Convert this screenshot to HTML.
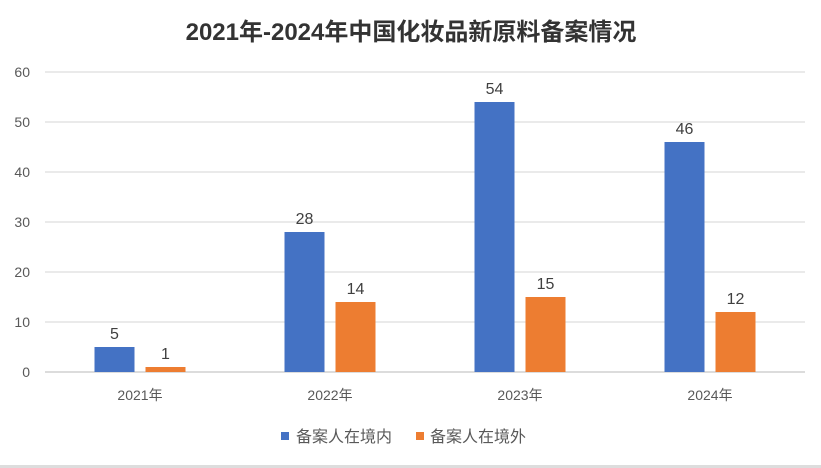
<!DOCTYPE html>
<html><head><meta charset="utf-8"><style>
html,body{margin:0;padding:0;background:#fff;}
svg{display:block;font-family:"Liberation Sans","Noto Sans CJK SC",sans-serif;}
</style></head><body>
<svg id="chart" width="821" height="468" viewBox="0 0 821 468">
<text x="411" y="40" text-anchor="middle" font-size="24" font-weight="bold" fill="#333">2021年-2024年中国化妆品新原料备案情况</text>
<g id="grid"></g><g id="bars"></g>
<g>
<rect x="281" y="432" width="8" height="8" fill="#4472C4"/>
<text x="296" y="442" font-size="16" fill="#595959">备案人在境内</text>
<rect x="416" y="432" width="8" height="8" fill="#ED7D31"/>
<text x="430" y="442" font-size="16" fill="#595959">备案人在境外</text>
</g>
<rect x="0" y="465" width="821" height="3" fill="#ddd"/>
</svg>
<script>
const categories=["2021年","2022年","2023年","2024年"];
const domestic=[5,28,54,46];
const overseas=[1,14,15,12];
const yTicks=[0,10,20,30,40,50,60];
const NS="http://www.w3.org/2000/svg";
const x0=45,x1=805,yBase=372,yTop=72,yMax=60;
const y=v=>yBase-(yBase-yTop)*v/yMax;
const band=(x1-x0)/categories.length;
const cx=i=>x0+band*(i+0.5);
function mk(t,a,p){const e=document.createElementNS(NS,t);for(const k in a)e.setAttribute(k,a[k]);p.appendChild(e);return e;}
const grid=document.getElementById('grid'),bars=document.getElementById('bars');
yTicks.forEach(v=>{
 const l=mk('line',{x1:x0,x2:x1,y1:y(v),y2:y(v),stroke:v===0?'#d0d0d0':'#e3e3e3','stroke-width':1.5},grid);
 
 
 const t=mk('text',{x:30,y:y(v)+5,'text-anchor':'end','font-size':14,fill:'#595959'},grid);
 t.textContent=v;
 
 
});
const bw=40,gap=11;
categories.forEach((c,i)=>{
 const t=mk('text',{x:cx(i),y:400,'text-anchor':'middle','font-size':14,fill:'#595959'},grid);
 t.textContent=c;
 
 
 [[domestic,'#4472C4',-1],[overseas,'#ED7D31',1]].forEach(([s,col,side])=>{
  const bx=side<0?cx(i)-gap/2-bw:cx(i)+gap/2;
  const r=mk('rect',{x:bx,y:y(s[i]),width:bw,height:yBase-y(s[i]),fill:col},bars);
  
  
  const lb=mk('text',{x:bx+bw/2,y:y(s[i])-8,'text-anchor':'middle','font-size':16,fill:'#404040'},bars);
  lb.textContent=s[i];
  
  
 });
});
</script>
</body></html>
